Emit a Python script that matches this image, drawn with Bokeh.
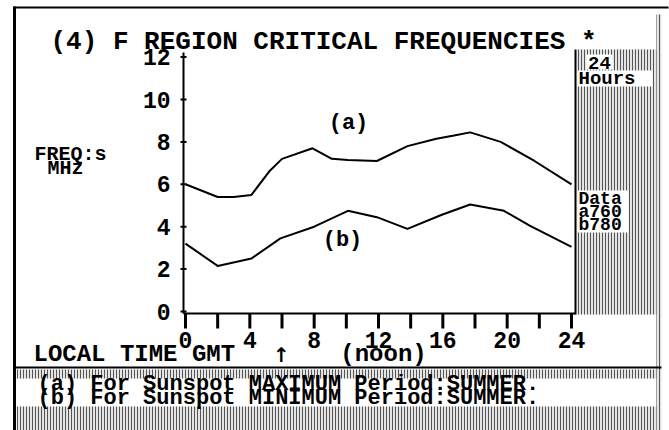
from bokeh.plotting import figure
from bokeh.models import Range1d
from bokeh.core.properties import value
from bokeh.embed import file_html
from bokeh.resources import INLINE

# ---------------- data ----------------
hours_a = [0, 2, 3, 4.1, 5.2, 6, 7.9, 9.1, 10.1, 11.9, 13.8, 15.6, 16.7, 17.7, 19.6, 21.7, 24]
freq_a = [6.0, 5.4, 5.4, 5.5, 6.6, 7.2, 7.7, 7.2, 7.15, 7.1, 7.8, 8.15, 8.3, 8.45, 8.0, 7.1, 6.0]
hours_b = [0, 2, 4.1, 5.9, 8, 10.1, 11.9, 13.8, 15.9, 17.7, 19.8, 21.4, 24]
freq_b = [3.2, 2.15, 2.5, 3.45, 4.0, 4.75, 4.45, 3.9, 4.55, 5.05, 4.75, 4.05, 3.05]

x_tick_hours = [0, 2, 4, 6, 8, 10, 12, 14, 16, 18, 20, 22, 24]
x_label_hours = [0, 4, 8, 12, 16, 20, 24]
x_labels = ["0", "4", "8", "12", "16", "20", "24"]
y_ticks = [0, 2, 4, 6, 8, 10, 12]
y_labels = ["0", "2", "4", "6", "8", "10", "12"]

title = "(4) F REGION CRITICAL FREQUENCIES *"
ylab1, ylab2 = "FREQ:s", "MHz"
xlab = "LOCAL TIME GMT"
arrow = "↑"
noon = "(noon)"
line_a = "(a) For Sunspot MAXIMUM Period:SUMMER."
line_b = "(b) For Sunspot MINIMUM Period:SUMMER."
panel_top = ["24", "Hours"]
panel_data = ["Data", "a760", "b780"]

# ---------------- layout (screen-like coordinates) ----------------
W, H = 669, 430
X0, SX = 185.0, (571.0 - 185.0) / 24.0   # hour 0 position, px per hour
Y0, SY = 311.0, 21.2                      # freq 0 position, px per MHz

p = figure(width=W, height=H, output_backend="svg", toolbar_location=None,
           x_axis_location=None, y_axis_location=None,
           x_range=Range1d(0, W), y_range=Range1d(H, 0),
           min_border=0, outline_line_color=None,
           background_fill_color="white", border_fill_color="white")
p.grid.visible = False
p.extra_x_ranges = {"h": Range1d(-X0 / SX, (W - X0) / SX)}
p.extra_y_ranges = {"f": Range1d((Y0 - H) / SY, Y0 / SY)}

FONT = value("Liberation Mono")
DITHER = dict(fill_color="#e4e4e4", line_color=None, hatch_pattern="vertical_line",
              hatch_color="#555555", hatch_scale=3, hatch_weight=1)

# outer frame
p.segment(x0=[14, 13], y0=[6, 7], x1=[14, 668], y1=[430, 7], line_color="black", line_width=[3, 2])
p.quad(left=[656], right=[661], top=[14], bottom=[430], **DITHER)

# right panel
p.quad(left=[576], right=[656], top=[49], bottom=[314], **DITHER)
p.segment(x0=[575], y0=[49], x1=[575], y1=[314], line_color="black", line_width=2)
p.quad(left=[586, 577, 577], right=[612, 652, 628], top=[54, 70, 190], bottom=[69, 86, 232],
       fill_color="white", line_color=None)

# bottom strip
p.segment(x0=[14], y0=[367], x1=[661], y1=[367], line_color="black", line_width=2)
p.quad(left=[16, 16], right=[656, 656], top=[369, 406], bottom=[378, 430], **DITHER)

# axes lines
p.segment(x0=[183, 183], y0=[52, 313], x1=[183, 575], y1=[313, 313], line_color="black", line_width=2)

# x ticks (hours range) and labels
p.segment(x0=x_tick_hours, y0=[313] * len(x_tick_hours), x1=x_tick_hours, y1=[328] * len(x_tick_hours),
          x_range_name="h", line_color="black", line_width=3)
p.text(x=x_label_hours, y=[339] * len(x_labels), text=x_labels, x_range_name="h",
       text_font=FONT, text_font_style="bold", text_font_size="23px",
       text_align="center", text_baseline="middle", text_color="black")

# y ticks and labels (freq range)
p.segment(x0=[180] * len(y_ticks), y0=y_ticks, x1=[186] * len(y_ticks), y1=y_ticks,
          y_range_name="f", line_color="black", line_width=2)
p.text(x=[170] * len(y_labels), y=y_ticks, text=y_labels, y_range_name="f",
       text_font=FONT, text_font_style="bold", text_font_size="23px",
       text_align="right", text_baseline="middle", text_color="black")

# curves
p.line(hours_a, freq_a, x_range_name="h", y_range_name="f", line_color="black", line_width=2)
p.line(hours_b, freq_b, x_range_name="h", y_range_name="f", line_color="black", line_width=2)

# texts
def txt(x, y, s, size, align="left", font=FONT):
    p.text(x=[x], y=[y], text=[s], text_font=font, text_font_style="bold",
           text_font_size=size, text_align=align, text_baseline="middle", text_color="black")

txt(50, 41, title, "26px")
txt(34, 154, ylab1, "20px")
txt(47, 168, ylab2, "20px")
txt(348, 123, "(a)", "22px", "center")
txt(342, 240, "(b)", "22px", "center")
txt(33, 354, xlab, "24px")
txt(281, 354, arrow, "20px", "center", value("DejaVu Sans"))
txt(383, 354, noon, "24px", "center")
txt(37, 384, line_a, "22px")
txt(37, 398, line_b, "22px")
txt(599, 62, panel_top[0], "19px", "center")
txt(578, 78, panel_top[1], "19px")
for i, s in enumerate(panel_data):
    txt(578, 198 + 13 * i, s, "18px")

open("out.html", "w").write(file_html(p, INLINE))
